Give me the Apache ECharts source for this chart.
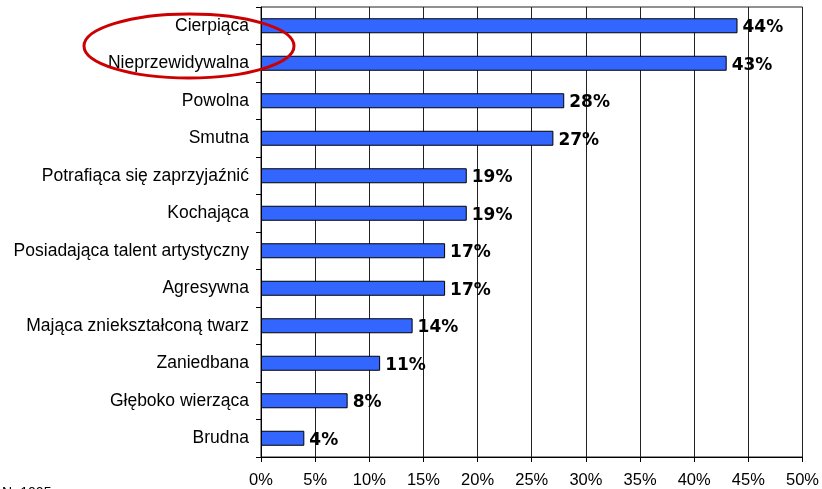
<!DOCTYPE html>
<html>
<head>
<meta charset="utf-8">
<script src="https://cdn.jsdelivr.net/npm/echarts@6/dist/echarts.min.js"></script>
<style>
  html, body { margin: 0; padding: 0; background: #fff; }
  #chart { width: 822px; height: 489px; }
</style>
</head>
<body>
<div id="chart"></div>
<script>
var categories = [
  "Cierpiąca",
  "Nieprzewidywalna",
  "Powolna",
  "Smutna",
  "Potrafiąca się zaprzyjaźnić",
  "Kochająca",
  "Posiadająca talent artystyczny",
  "Agresywna",
  "Mająca zniekształconą twarz",
  "Zaniedbana",
  "Głęboko wierząca",
  "Brudna"
];
var values = [44, 43, 28, 27, 19, 19, 17, 17, 14, 11, 8, 4];

var myChart = echarts.init(document.getElementById("chart"));
var option = {
  animation: false,
  grid: {
    left: 261,
    right: 19,
    top: 7,
    bottom: 32,
    show: true,
    borderColor: "#222",
    borderWidth: 1
  },
  xAxis: {
    type: "value",
    min: 0,
    max: 50,
    interval: 5,
    axisLine: { show: true, lineStyle: { color: "#000" } },
    axisTick: { show: true, length: 5, lineStyle: { color: "#000" } },
    splitLine: { show: true, lineStyle: { color: "#222", width: 1 } },
    axisLabel: {
      formatter: "{value}%",
      color: "#000",
      fontFamily: "Liberation Sans",
      fontSize: 16.5,
      margin: 15
    }
  },
  yAxis: {
    type: "category",
    inverse: true,
    data: categories,
    axisLine: { show: true, lineStyle: { color: "#000" } },
    axisTick: { show: true, length: 5, lineStyle: { color: "#000" } },
    axisLabel: {
      color: "#000",
      fontFamily: "Liberation Sans",
      fontSize: 17.5,
      margin: 12
    }
  },
  series: [
    {
      type: "bar",
      data: values,
      barWidth: 15,
      itemStyle: {
        color: "#3366ff",
        borderColor: "#000",
        borderWidth: 1
      },
      label: {
        show: true,
        position: "right",
        distance: 5,
        offset: [0, 2],
        formatter: "{c}%",
        color: "#000",
        fontFamily: "DejaVu Sans",
        fontWeight: "bold",
        fontSize: 17
      }
    }
  ],
  graphic: [
    {
      type: "ellipse",
      shape: { cx: 189, cy: 46, rx: 105, ry: 32 },
      style: { fill: null, stroke: "#cc0000", lineWidth: 3 },
      z: 100
    },
    {
      type: "text",
      left: 2,
      top: 486,
      style: { text: "N=1005", fill: "#000", font: "14px Liberation Sans" }
    }
  ]
};
myChart.setOption(option);
</script>
</body>
</html>
